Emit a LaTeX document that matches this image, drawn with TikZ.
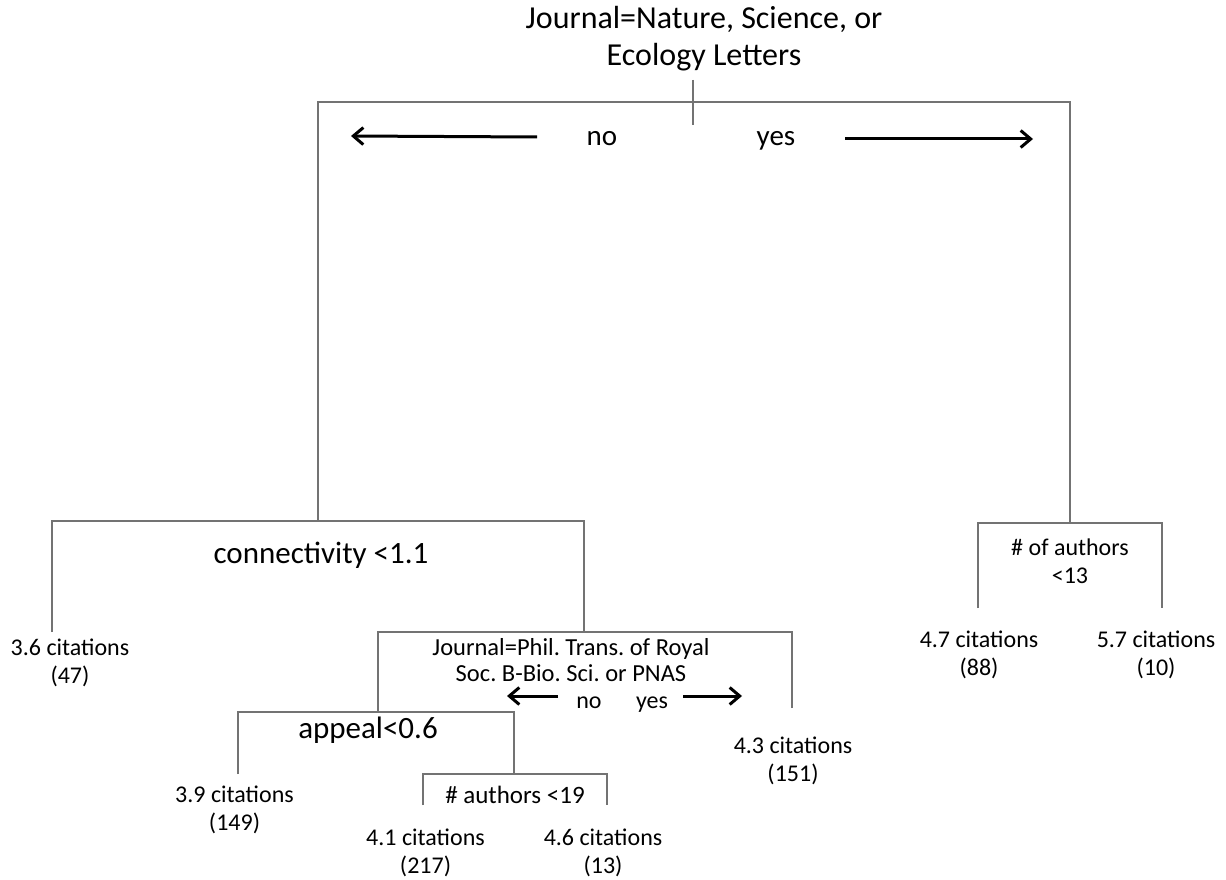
\documentclass[tikz,border=0pt]{standalone}
\usepackage{fontspec}
\setmainfont{Carlito}
\usetikzlibrary{arrows.meta}
\newcommand\myfs[2]{\fontsize{#1}{#2}\selectfont}
\frenchspacing
\begin{document}
\begin{tikzpicture}[x=1pt,y=-1pt,
  branch/.style={draw=black!55, line width=2.8pt},
  arr/.style={draw=black, line width=3pt, -{Straight Barb[length=10pt,width=17pt,line width=3pt]}},
  lbl/.style={anchor=base, inner sep=0pt, align=center},
  big/.style={lbl, font=\myfs{31}{37}},
  huge/.style={lbl, font=\myfs{32}{37}},
  leaf/.style={lbl, font=\myfs{24}{28}},
  small/.style={lbl, font=\myfs{24.5}{26}}]
\useasboundingbox (0,0) rectangle (1226,880);
\fill[white] (0,0) rectangle (1226,880);

% ---------- labels (base anchor = baseline of the last line) ----------
\node[huge] (title) at (704,66) {Journal=Nature, Science, or\\Ecology Letters};
\node[lbl, font=\myfs{29}{34}] (no1) at (602,146) {no};
\node[lbl, font=\myfs{29}{34}] (yes1) at (776,146) {yes};
\node[big] (conn) at (321,563) {connectivity <1.1};
\node[leaf] (l36) at (70,683) {3.6 citations\\(47)};
\node[small] (phil) at (571,681) {Journal=Phil. Trans. of Royal\\Soc. B-Bio. Sci. or PNAS};
\node[leaf] (no2) at (589,708) {no};
\node[leaf] (yes2) at (652,708) {yes};
\node[leaf] (l43) at (793,781) {4.3 citations\\(151)};
\node[big] (appeal) at (368,738) {appeal<0.6};
\node[leaf] (l39) at (234.5,830) {3.9 citations\\(149)};
\node[lbl, font=\myfs{25}{28}] (auth) at (515,803) {\# authors <19};
\node[leaf] (l41) at (425.5,873) {4.1 citations\\(217)};
\node[leaf] (l46) at (603,873) {4.6 citations\\(13)};
\node[leaf] (ofauth) at (1070,583) {\# of authors\\<13};
\node[leaf] (l47) at (979,675) {4.7 citations\\(88)};
\node[leaf] (l57) at (1156,675) {5.7 citations\\(10)};

% ---------- tree coordinates ----------
\coordinate (tickT) at (693,80);
\coordinate (tickB) at (693,125);
\coordinate (rL) at (318,102);
\coordinate (rR) at (1070,102);
\coordinate (cM) at (318,521);
\coordinate (cL) at (52,521);
\coordinate (cR) at (584,521);
\coordinate (cLe) at (52,632);
\coordinate (pM) at (584,632);
\coordinate (pL) at (378,632);
\coordinate (pR) at (792,632);
\coordinate (pRe) at (792,708);
\coordinate (aM) at (378,712);
\coordinate (aL) at (238,712);
\coordinate (aR) at (514,712);
\coordinate (aLe) at (238,774);
\coordinate (uM) at (514,774);
\coordinate (uL) at (423,774);
\coordinate (uR) at (607,774);
\coordinate (uLe) at (423,805);
\coordinate (uRe) at (607,805);
\coordinate (oM) at (1070,523);
\coordinate (oL) at (978,523);
\coordinate (oR) at (1162,523);
\coordinate (oLe) at (978,608);
\coordinate (oRe) at (1162,608);

% ---------- branches ----------
\draw[branch] (tickT) -- (tickB);
\draw[branch] (cM) -- (rL) -- (rR) -- (oM);
\draw[branch] (cLe) -- (cL) -- (cR) -- (pM);
\draw[branch] (pRe) -- (pR) -- (pL) -- (aM);
\draw[branch] (aLe) -- (aL) -- (aR) -- (uM);
\draw[branch] (uLe) -- (uL) -- (uR) -- (uRe);
\draw[branch] (oLe) -- (oL) -- (oR) -- (oRe);

% ---------- arrows ----------
\coordinate (a1s) at (537,137);
\coordinate (a1e) at (351,136);
\coordinate (a2s) at (845,139);
\coordinate (a2e) at (1033,139);
\coordinate (a3s) at (558,696);
\coordinate (a3e) at (507,696);
\coordinate (a4s) at (683,696);
\coordinate (a4e) at (742,696);
\draw[arr] (a1s) -- (a1e);
\draw[arr] (a2s) -- (a2e);
\draw[arr] (a3s) -- (a3e);
\draw[arr] (a4s) -- (a4e);
\end{tikzpicture}
\end{document}
